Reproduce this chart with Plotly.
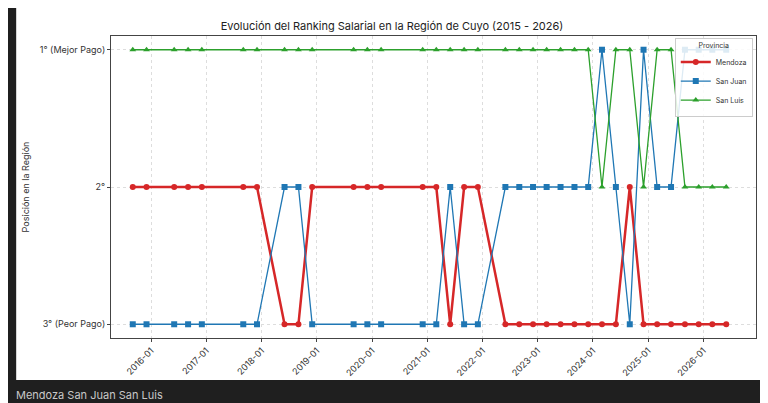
import plotly.graph_objects as go

fechas = ["2015-09", "2015-12", "2016-06", "2016-09", "2016-12", "2017-09", "2017-12",
          "2018-06", "2018-09", "2018-12", "2019-09", "2019-12", "2020-03", "2020-12",
          "2021-03", "2021-06", "2021-09", "2021-12", "2022-06", "2022-09", "2022-12",
          "2023-03", "2023-06", "2023-09", "2023-12", "2024-03", "2024-06", "2024-09",
          "2024-12", "2025-03", "2025-06", "2025-09", "2025-12", "2026-03", "2026-06"]

ranking = {
    "Mendoza":  [2, 2, 2, 2, 2, 2, 2, 3, 3, 2, 2, 2, 2, 2, 2, 3, 2, 2, 3, 3, 3,
                 3, 3, 3, 3, 3, 3, 2, 3, 3, 3, 3, 3, 3, 3],
    "San Juan": [3, 3, 3, 3, 3, 3, 3, 2, 2, 3, 3, 3, 3, 3, 3, 2, 3, 3, 2, 2, 2,
                 2, 2, 2, 2, 1, 2, 3, 1, 2, 2, 1, 1, 1, 1],
    "San Luis": [1, 1, 1, 1, 1, 1, 1, 1, 1, 1, 1, 1, 1, 1, 1, 1, 1, 1, 1, 1, 1,
                 1, 1, 1, 1, 2, 1, 1, 2, 1, 1, 2, 2, 2, 2],
}
estilos = {
    "Mendoza": dict(color="#d62728", width=2.5, symbol="circle"),
    "San Juan": dict(color="#1f77b4", width=1.3, symbol="square"),
    "San Luis": dict(color="#2ca02c", width=1.3, symbol="triangle-up"),
}

fig = go.Figure()
for prov, vals in ranking.items():
    e = estilos[prov]
    fig.add_trace(go.Scatter(
        x=fechas, y=vals, name=prov, mode="lines+markers",
        line=dict(color=e["color"], width=e["width"]),
        marker=dict(symbol=e["symbol"], size=6, color=e["color"])))

fig.update_layout(
    width=768, height=403,
    margin=dict(l=103, r=20, t=28, b=73, autoexpand=False),
    paper_bgcolor="#1f1f1f", plot_bgcolor="white",
    font=dict(family="Inter", size=9, color="#333"),
    title=dict(text="Evolución del Ranking Salarial en la Región de Cuyo (2015 - 2026)",
               x=0.5, xanchor="center", y=0.965, font=dict(size=11, color="#222")),
    legend=dict(title=dict(text="Provincia", side="top center", font=dict(size=7)),
                x=0.995, y=0.995, xanchor="right", yanchor="top",
                bgcolor="rgba(255,255,255,0.85)", bordercolor="#ccc", borderwidth=1,
                font=dict(size=7), itemwidth=30, tracegroupgap=0),
    showlegend=True,
    shapes=[dict(type="rect", xref="paper", yref="paper", x0=-0.147, x1=1.014,
                 y0=-0.139, y1=1.093, fillcolor="white", line=dict(width=0),
                 layer="below")],
    annotations=[dict(text="Mendoza San Juan San Luis", xref="paper", yref="paper",
                      x=-0.15, y=-0.19, xanchor="left", yanchor="middle",
                      showarrow=False, font=dict(size=11, color="#c8c8c8"))],
)
fig.update_xaxes(range=["2015-04-10", "2026-12-15"], dtick="M12", tick0="2016-01-01",
                 tickformat="%Y-%m", tickangle=-45, showgrid=True, gridcolor="#ddd",
                 griddash="dot", showline=True, linecolor="#444", mirror=True,
                 ticks="outside", ticklen=3, automargin=False)
fig.update_yaxes(range=[3.1, 0.9], tickvals=[1, 2, 3],
                 ticktext=["1° (Mejor Pago)", "2°", "3° (Peor Pago)"],
                 title=dict(text="Posición en la Región", font=dict(size=9), standoff=8),
                 showgrid=True, gridcolor="#ddd", griddash="dot", showline=True,
                 linecolor="#444", mirror=True, ticks="outside", ticklen=3,
                 zeroline=False, automargin=False)

fig.write_html("out.html")
